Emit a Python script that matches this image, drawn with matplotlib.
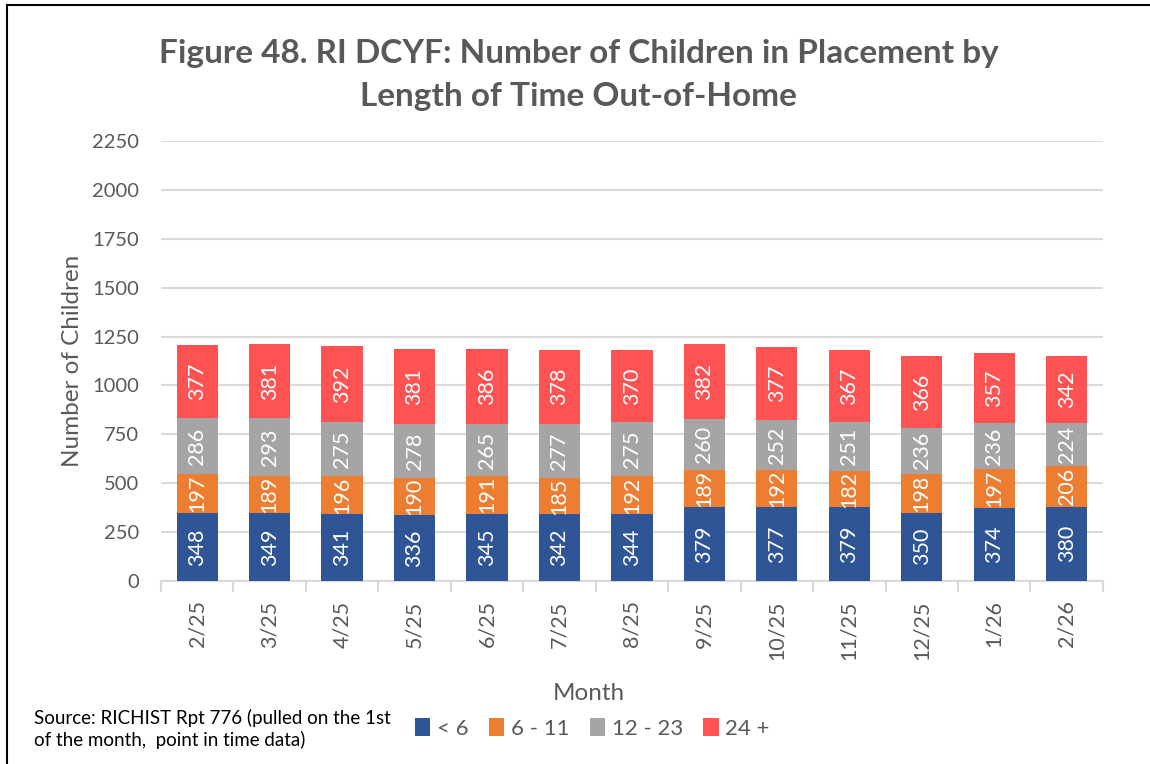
import numpy as np
import matplotlib.pyplot as plt
from matplotlib.lines import Line2D
from matplotlib.patches import Patch

months = ["2/25", "3/25", "4/25", "5/25", "6/25", "7/25", "8/25",
          "9/25", "10/25", "11/25", "12/25", "1/26", "2/26"]
under_6 = [348, 349, 341, 336, 345, 342, 344, 379, 377, 379, 350, 374, 380]
m6_11 = [197, 189, 196, 190, 191, 185, 192, 189, 192, 182, 198, 197, 206]
m12_23 = [286, 293, 275, 278, 265, 277, 275, 260, 252, 251, 236, 236, 224]
m24_plus = [377, 381, 392, 381, 386, 378, 370, 382, 377, 367, 366, 357, 342]

series_labels = ["< 6", "6 - 11", "12 - 23", "24 +"]
series_colors = ["#2F5597", "#ED7D31", "#A5A5A5", "#FF5252"]
y_ticks = [0, 250, 500, 750, 1000, 1250, 1500, 1750, 2000, 2250]

plt.rcParams['font.family'] = ['Lato', 'DejaVu Sans']
text_gray = "#595959"
grid_gray = "#D9D9D9"

fig = plt.figure(figsize=(11.5, 7.64), dpi=100)
ax = fig.add_axes([0.140, 0.2395, 0.819, 0.576])

x = np.arange(len(months))
bottom = np.zeros(len(months))
for values, label, color in zip([under_6, m6_11, m12_23, m24_plus], series_labels, series_colors):
    vals = np.array(values, dtype=float)
    bars = ax.bar(x, vals, width=0.57, bottom=bottom, color=color, label=label, zorder=3)
    ax.bar_label(bars, labels=[str(v) for v in values], label_type="center",
                 rotation=90, color="white", fontsize=15.5, zorder=4)
    bottom += vals

ax.set_xlim(-0.5, len(months) - 0.5)
ax.set_ylim(0, 2250)
ax.set_yticks(y_ticks)
ax.set_yticklabels([str(t) for t in y_ticks], fontsize=14.5, color=text_gray)
ax.yaxis.grid(True, color=grid_gray, linewidth=1.5, zorder=0)
ax.tick_params(axis="y", length=0, pad=16)

# category labels in the middle, tick marks between categories
ax.set_xticks(x)
ax.set_xticklabels(months, rotation=90, fontsize=15.5, color=text_gray)
ax.tick_params(axis="x", which="major", length=0, pad=14)
ax.set_xticks(np.arange(-0.5, len(months)), minor=True)
ax.tick_params(axis="x", which="minor", length=8, width=1.5, color=grid_gray)

for side in ["left", "right", "top"]:
    ax.spines[side].set_visible(False)
ax.spines["bottom"].set_color(grid_gray)
ax.spines["bottom"].set_linewidth(1.5)

ax.set_ylabel("Number of Children", fontsize=17.5, color=text_gray, labelpad=6)
fig.text(0.512, 0.092, "Month", fontsize=17.5, color=text_gray, ha="center", va="center")

fig.text(0.503, 0.902, "Figure 48. RI DCYF: Number of Children in Placement by\nLength of Time Out-of-Home",
         fontsize=24, fontweight="bold", color=text_gray, ha="center", va="center", linespacing=1.6)

fig.text(0.030, 0.046, "Source: RICHIST Rpt 776 (pulled on the 1st\nof the month,  point in time data)",
         fontsize=13.5, color="black", ha="left", va="center", linespacing=1.3)

handles = [Patch(facecolor=c, edgecolor="none") for c in series_colors]
fig.legend(handles, series_labels, loc="center", bbox_to_anchor=(0.515, 0.047), ncol=4,
           frameon=False, fontsize=16, labelcolor=text_gray, handlelength=0.7, handleheight=0.9,
           handletextpad=0.3, columnspacing=0.9)

# chart frame
fig.add_artist(Line2D([0.006, 0.006], [0, 0.994], transform=fig.transFigure, color="black", linewidth=1.5))
fig.add_artist(Line2D([0.006, 1], [0.994, 0.994], transform=fig.transFigure, color="black", linewidth=1.5))

fig.savefig("out.png", dpi=100)
